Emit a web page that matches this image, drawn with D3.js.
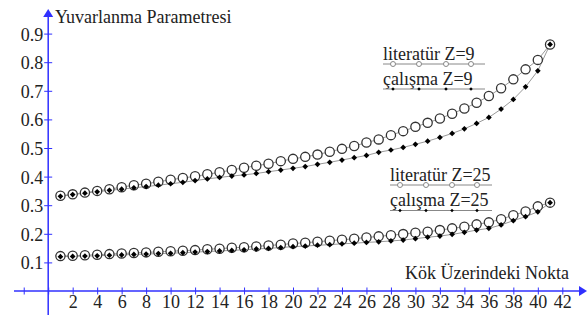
<!DOCTYPE html>
<html>
<head>
<meta charset="utf-8">
<script src="https://cdn.jsdelivr.net/npm/d3@7"></script>
</head>
<body style="margin:0">
<script>
// x positions of the points on the root
var points=d3.range(1,42);
var xTicks=d3.range(-2,43,2);
var yTicks=[0.1,0.2,0.3,0.4,0.5,0.6,0.7,0.8,0.9];

var lit9=[0.333,0.338,0.344,0.350,0.356,0.363,0.370,0.375,0.382,0.389,0.395,0.401,0.408,0.415,0.423,0.431,0.438,0.445,0.454,0.462,0.469,0.477,0.487,0.497,0.507,0.519,0.530,0.545,0.559,0.574,0.588,0.603,0.620,0.638,0.658,0.682,0.709,0.740,0.775,0.808,0.862];
var cal9=[0.331,0.337,0.342,0.347,0.352,0.356,0.361,0.365,0.370,0.375,0.380,0.386,0.392,0.397,0.402,0.406,0.411,0.417,0.423,0.429,0.435,0.443,0.450,0.458,0.466,0.474,0.485,0.493,0.502,0.513,0.524,0.537,0.551,0.567,0.586,0.607,0.636,0.670,0.714,0.770,0.862];
var lit25=[0.122,0.123,0.125,0.127,0.129,0.131,0.133,0.135,0.137,0.139,0.141,0.143,0.146,0.148,0.151,0.153,0.156,0.159,0.162,0.166,0.169,0.172,0.176,0.179,0.183,0.187,0.191,0.195,0.199,0.204,0.207,0.213,0.219,0.225,0.233,0.240,0.251,0.265,0.278,0.296,0.309];
var cal25=[0.120,0.121,0.122,0.123,0.125,0.126,0.128,0.129,0.131,0.132,0.134,0.136,0.138,0.140,0.142,0.144,0.147,0.149,0.152,0.155,0.157,0.160,0.162,0.165,0.167,0.170,0.172,0.175,0.178,0.183,0.188,0.192,0.198,0.205,0.213,0.219,0.231,0.246,0.260,0.277,0.309];

var W=587,H=315;
var blue="#3030ff";
var svg=d3.select("body").append("svg").attr("width",W).attr("height",H);

var x=d3.scaleLinear().domain([0,42]).range([48.2,562.3]);
var y=d3.scaleLinear().domain([0,0.9]).range([291,33.6]);

function txt(sel){
    return sel.attr("font-family","Liberation Serif").attr("font-size",18).attr("fill","#222");
}

// x axis
var xg=svg.append("g").attr("transform","translate(0,"+y(0)+")")
    .call(d3.axisBottom(x).tickValues(xTicks).tickFormat(function(d){return d>0?d:"";}));
xg.attr("font-family","Liberation Serif").attr("font-size",18);
xg.select(".domain").remove();
xg.selectAll(".tick line").attr("y1",-3.5).attr("y2",3.5).attr("stroke",blue);
txt(xg.selectAll(".tick text").attr("y",17).attr("dy","0"));
svg.append("line").attr("x1",14).attr("x2",580).attr("y1",y(0)).attr("y2",y(0)).attr("stroke",blue).attr("stroke-width",1.5);
svg.append("path").attr("d","M587,"+y(0)+" l-8,-5 l0,10 z").attr("fill",blue);

// y axis
var yg=svg.append("g").attr("transform","translate("+x(0)+",0)")
    .call(d3.axisLeft(y).tickValues(yTicks).tickFormat(d3.format(".1f")));
yg.attr("font-family","Liberation Serif").attr("font-size",18);
yg.select(".domain").remove();
yg.selectAll(".tick line").attr("x1",-4).attr("x2",4).attr("stroke",blue);
txt(yg.selectAll(".tick text").attr("x",-5).attr("dy","0.36em"));
svg.append("line").attr("x1",x(0)).attr("x2",x(0)).attr("y1",H).attr("y2",16).attr("stroke",blue).attr("stroke-width",1.5);
svg.append("path").attr("d","M"+x(0)+",9 l-5,8 l10,0 z").attr("fill",blue);

// titles
txt(svg.append("text").attr("x",55).attr("y",23)).text("Yuvarlanma Parametresi");
txt(svg.append("text").attr("x",569).attr("y",279).attr("text-anchor","end")).text("Kök Üzerindeki Nokta");

var line=d3.line().x(function(d,i){return x(points[i]);}).y(function(d){return y(d);});
[lit9,cal9,lit25,cal25].forEach(function(s){
    svg.append("path").attr("d",line(s)).attr("fill","none").attr("stroke","#999").attr("stroke-width",1);
});

var diamond=d3.symbol().type(d3.symbolDiamond2).size(21);
function drawCircles(s){
    svg.append("g").selectAll("circle").data(s).enter().append("circle")
        .attr("cx",function(d,i){return x(points[i]);})
        .attr("cy",function(d){return y(d);})
        .attr("r",4.6).attr("fill","#fff").attr("stroke","#333").attr("stroke-width",1.3);
}
function drawDiamonds(s){
    svg.append("g").selectAll("path").data(s).enter().append("path")
        .attr("d",diamond)
        .attr("transform",function(d,i){return "translate("+x(points[i])+","+y(d)+")";})
        .attr("fill","#000");
}
drawCircles(lit9);drawDiamonds(cal9);
drawCircles(lit25);drawDiamonds(cal25);

// legends
var legends=[
    {label:"literatür Z=9",lx:383,ly:60,x1:383,x2:485,my:64,dots:[393,419,446,471],kind:"c"},
    {label:"çalışma Z=9",lx:383,ly:85,x1:383,x2:485,my:89,dots:[393,419,446,471],kind:"d"},
    {label:"literatür Z=25",lx:390,ly:181,x1:390,x2:492,my:185,dots:[400,426,452,477],kind:"c"},
    {label:"çalışma Z=25",lx:390,ly:206,x1:390,x2:492,my:210.5,dots:[400,426,452,477],kind:"d"}
];
var smallD=d3.symbol().type(d3.symbolDiamond2).size(8);
legends.forEach(function(l){
    txt(svg.append("text").attr("x",l.lx).attr("y",l.ly)).text(l.label);
    svg.append("line").attr("x1",l.x1).attr("x2",l.x2).attr("y1",l.my).attr("y2",l.my).attr("stroke","#888").attr("stroke-width",1);
    l.dots.forEach(function(dx){
        if(l.kind==="c"){
            svg.append("circle").attr("cx",dx).attr("cy",l.my).attr("r",2.5).attr("fill","#fff").attr("stroke","#888").attr("stroke-width",1);
        }else{
            svg.append("path").attr("d",smallD).attr("transform","translate("+dx+","+l.my+")").attr("fill","#000");
        }
    });
});
</script>
</body>
</html>
